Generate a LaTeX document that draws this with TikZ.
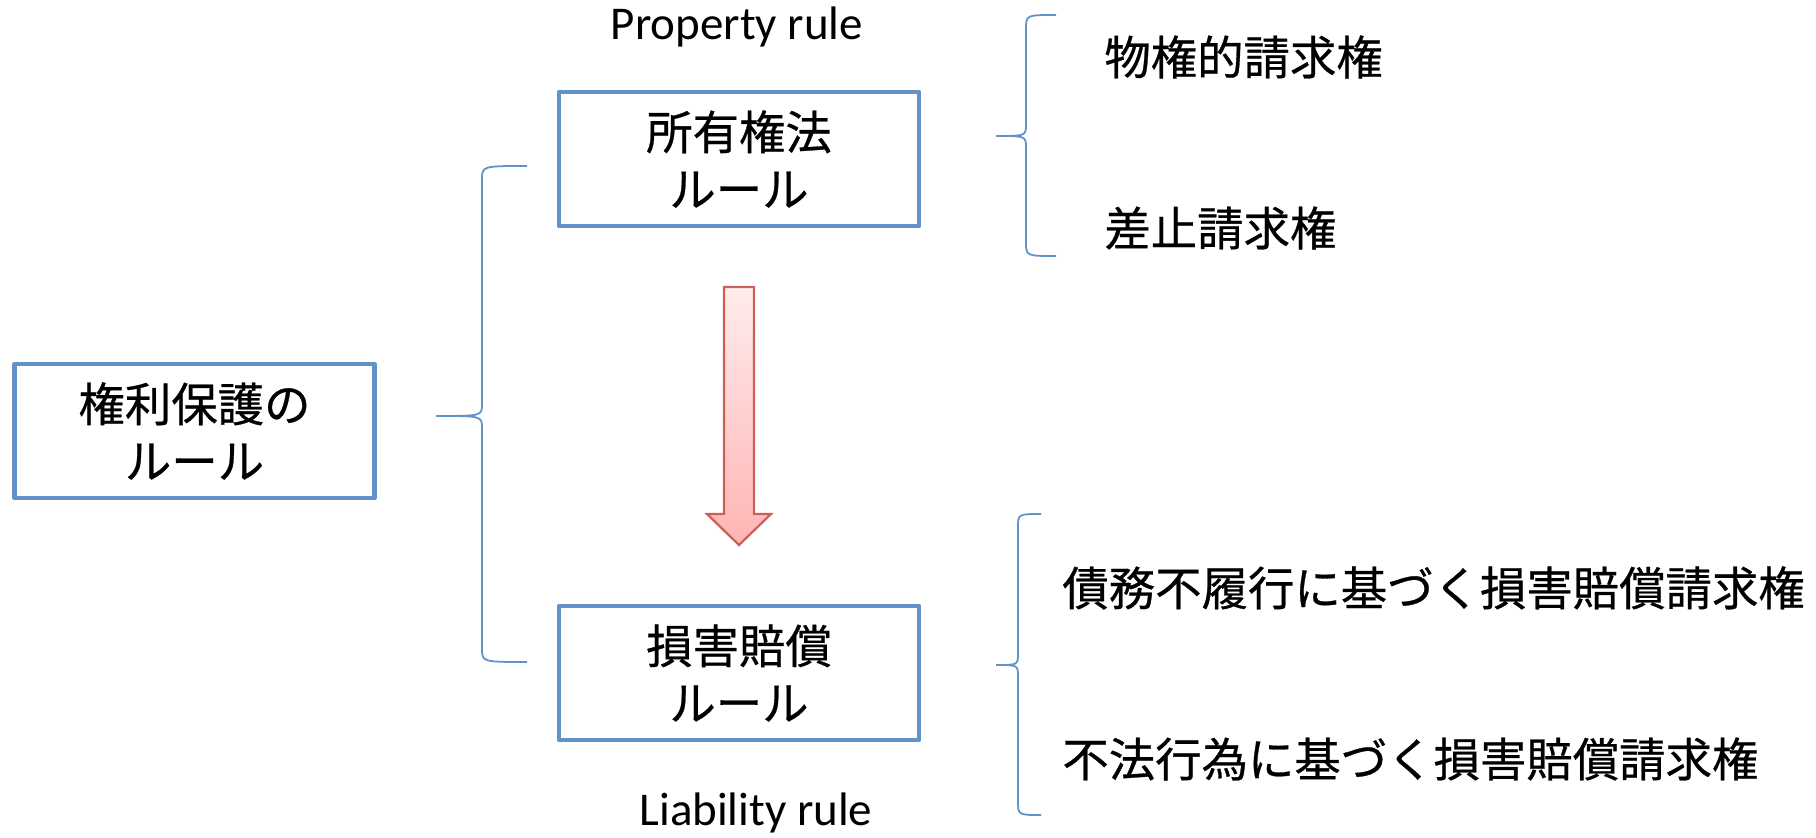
\documentclass[tikz,border=0pt]{standalone}
\usepackage{fontspec}
\setmainfont{Carlito}
\newfontfamily\jpfont[FakeBold=0.6]{Noto Sans CJK JP}

\definecolor{boxblue}{RGB}{98,147,200}
\definecolor{arrowred}{RGB}{205,95,90}
\definecolor{arrowtop}{RGB}{255,236,236}
\definecolor{arrowbot}{RGB}{255,180,180}

\newcommand{\jptext}{\jpfont\fontsize{23.2}{28.5}\selectfont}
\newcommand{\pxunit}{0.5pt}

\tikzstyle{rulebox}=[draw=boxblue,line width=2.2pt,line join=round,rectangle,minimum width=180pt,minimum height=67pt,inner sep=0pt,align=center,font=\jptext]
\tikzstyle{claim}=[anchor=west,inner sep=0pt,font=\jptext]
\tikzstyle{engtext}=[inner sep=0pt,font=\fontsize{23.5}{26}\selectfont]
\tikzstyle{bracket}=[draw=boxblue,line width=0.9pt]
\tikzstyle{downarrow}=[shade,top color=arrowtop,bottom color=arrowbot,draw=arrowred,line width=1.1pt]

% brace: end x, spine x, tip x, top y, tip y, bottom y
\newcommand{\ruleBrace}[6]{%
  \path[bracket] (#1,#4) .. controls (#2,#4) .. (#2,#4+14) -- (#2,#5-12)
    .. controls (#2,#5) .. (#3,#5) .. controls (#2,#5) .. (#2,#5+12)
    -- (#2,#6-14) .. controls (#2,#6) .. (#1,#6);
}

\begin{document}
\begin{tikzpicture}[x=\pxunit, y=-\pxunit]
    \useasboundingbox (0,0) rectangle (1816,838);
    % First we draw the three rule boxes
    \node[rulebox] (root) at (194.5,431) {権利保護の\\ルール};
    \node[rulebox] (prop) at (739,159) {所有権法\\ルール};
    \node[rulebox] (liab) at (739,673) {損害賠償\\ルール};
    \node[engtext] (proptag) at (737,27) {Property rule};
    \node[engtext] (liabtag) at (756,813) {Liability rule};
    % The claims on the right
    \foreach \pos/\name/\txt in {{(1104,57)/real/物権的請求権}, {(1104,228)/stop/差止請求権},
        {(1062,588)/contract/債務不履行に基づく損害賠償請求権}, {(1062,759)/tort/不法行為に基づく損害賠償請求権}}
        \node[claim] (\name) at \pos {\txt};
    % Braces
    \ruleBrace{527}{482}{436}{166}{416}{662}
    \ruleBrace{1056}{1026}{996}{15}{136}{256}
    \ruleBrace{1041}{1018}{996}{514}{665}{815}
    % Shift from property rule to liability rule
    \path[downarrow] (724,287) -- (754,287) -- (754,514) -- (771,514) -- (739,545)
        -- (707,514) -- (724,514) -- cycle;
\end{tikzpicture}
\end{document}
